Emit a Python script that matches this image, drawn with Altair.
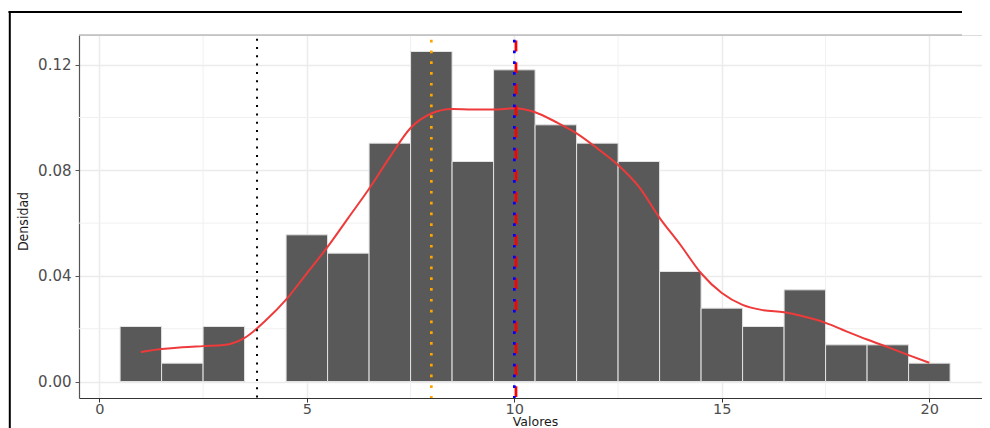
import altair as alt
import pandas as pd

# ---- data ----
bin_centers = list(range(1, 21))
bin_counts = [3, 1, 3, 0, 8, 7, 13, 18, 12, 17, 14, 13, 12, 6, 4, 3, 5, 2, 2, 1]

dens_x = [1, 1.5, 2, 2.5, 3, 3.5, 4, 4.5, 5, 5.5, 6, 6.5, 7, 7.5, 8, 8.5, 9, 9.5,
          10, 10.5, 11, 11.5, 12, 12.5, 13, 13.5, 14, 14.5, 15, 15.5, 16, 16.5,
          17, 17.5, 18, 18.5, 19, 19.5, 20]
dens_y = [0.0112, 0.0123, 0.0130, 0.0134, 0.0138, 0.0165, 0.0230, 0.0310, 0.0410,
          0.0510, 0.0620, 0.0730, 0.0850, 0.0960, 0.1015, 0.1032, 0.1030, 0.1030,
          0.1035, 0.1020, 0.0983, 0.0940, 0.0883, 0.0820, 0.0738, 0.0620, 0.0518,
          0.0410, 0.0335, 0.0290, 0.0270, 0.0262, 0.0245, 0.0222, 0.0190, 0.0159,
          0.0130, 0.0100, 0.0071]

x_ticks = [0, 5, 10, 15, 20]
y_ticks = [0.00, 0.04, 0.08, 0.12]
x_minor = [2.5, 7.5, 12.5, 17.5]
y_minor = [0.02, 0.06, 0.10]

vline_names = ["limite", "moda", "mediana", "media"]
vline_values = [3.8, 8.0, 10.0, 10.04]

# ---- tables ----
total = sum(bin_counts)
bars = pd.DataFrame({
    "left": [c - 0.5 for c in bin_centers],
    "right": [c + 0.5 for c in bin_centers],
    "density": [n / total for n in bin_counts],
})
bars = bars[bars["density"] > 0]
dens = pd.DataFrame({"left": dens_x, "density": dens_y})
xmin_df = pd.DataFrame({"left": x_minor})
ymin_df = pd.DataFrame({"density": y_minor})
vl = pd.DataFrame({"name": vline_names, "left": vline_values})
one = pd.DataFrame({"a": [0]})

W, H = 903, 363
PX_PER_UNIT = 41.5
x_scale = alt.Scale(domain=[-0.49, -0.49 + W / PX_PER_UNIT], nice=False, zero=False)
y_scale = alt.Scale(domain=[-0.00625, 0.13125], nice=False, zero=False)

LABEL_FONT = "DejaVu Sans"

x_axis = alt.Axis(values=x_ticks, title="Valores", grid=True,
                  gridColor="#EBEBEB", gridWidth=1.5,
                  domainColor="#333333", domainWidth=1.2,
                  tickColor="#333333", tickSize=4, tickWidth=1,
                  labelPadding=0, labelFont=LABEL_FONT, labelFontSize=14.5,
                  labelColor="#4D4D4D",
                  titleFont=LABEL_FONT, titleFontSize=12.5,
                  titleFontWeight="normal", titleColor="#1A1A1A",
                  titleX=456, titleY=27, titleAlign="center",
                  titleBaseline="alphabetic")
y_axis = alt.Axis(values=y_ticks, format=".2f", title="Densidad", grid=True,
                  gridColor="#EBEBEB", gridWidth=1.5,
                  domainColor="#555555", domainWidth=1.2,
                  tickColor="#555555", tickSize=4, tickWidth=1,
                  labelPadding=4, labelFont=LABEL_FONT, labelFontSize=15,
                  labelColor="#4D4D4D",
                  titleFont="DejaVu Sans Condensed, Liberation Sans Narrow, sans-serif",
                  titleFontSize=14, titleFontWeight="normal",
                  titleColor="#1A1A1A", titleAngle=270,
                  titleX=-56, titleY=186, titleAlign="center",
                  titleBaseline="middle")

X = lambda f: alt.X(f, scale=x_scale, axis=x_axis)
Y = lambda f: alt.Y(f, scale=y_scale, axis=y_axis)

minor_x = alt.Chart(xmin_df).mark_rule(color="#F0F0F0", strokeWidth=1).encode(
    x=X("left:Q"))
minor_y = alt.Chart(ymin_df).mark_rule(color="#F0F0F0", strokeWidth=1).encode(
    y=Y("density:Q"))

bar_layer = alt.Chart(bars).mark_rect(
    color="#595959", stroke="#E3E3E3", strokeWidth=1
).encode(
    x=X("left:Q"),
    x2="right:Q",
    y=Y("density:Q"),
    y2=alt.datum(0),
)

dens_layer = alt.Chart(dens).mark_line(
    color="#EE3A3A", strokeWidth=2, interpolate="monotone"
).encode(
    x=X("left:Q"),
    y=Y("density:Q"),
)


def vline(name, color, width, dash, offset):
    return alt.Chart(vl).transform_filter(
        alt.datum.name == name
    ).mark_rule(color=color, strokeWidth=width, strokeDash=dash,
                strokeDashOffset=offset, strokeCap="butt").encode(
        x=X("left:Q"),
        y=alt.value(0), y2=alt.value(H),
    )


v_black = vline("limite", "black", 2, [2, 6.3], 4.6)
v_orange = vline("moda", "#FFA500", 2.7, [2.7, 8.1], 6.1)
v_red = vline("media", "#FF0000", 2.7, [10.8, 10.8], 16)
v_blue = vline("mediana", "#0000FF", 2.7, [2.7, 8.1], 6.1)

top_border = alt.Chart(one).mark_rule(color="#BBBBBB", strokeWidth=1.3).encode(
    x=alt.value(0), x2=alt.value(W - 20), y=alt.value(0), y2=alt.value(0))

frame_top = alt.Chart(one).mark_rule(color="black", strokeWidth=2).encode(
    x=alt.value(-70.5), x2=alt.value(W - 20), y=alt.value(-23), y2=alt.value(-23))
frame_left = alt.Chart(one).mark_rule(color="black", strokeWidth=2).encode(
    x=alt.value(-69.2), x2=alt.value(-69.2), y=alt.value(-24), y2=alt.value(H + 40))

chart = alt.layer(
    minor_x, minor_y, bar_layer, dens_layer, top_border,
    v_black, v_orange, v_red, v_blue, frame_top, frame_left
).properties(
    width=W, height=H,
    autosize=alt.AutoSizeParams(type="none"),
    padding={"left": 71, "top": 27, "right": 0, "bottom": 30},
).configure_view(stroke="transparent", strokeWidth=0).configure(background="white")

chart.save("out.html", embed_options={"renderer": "svg", "actions": False})
